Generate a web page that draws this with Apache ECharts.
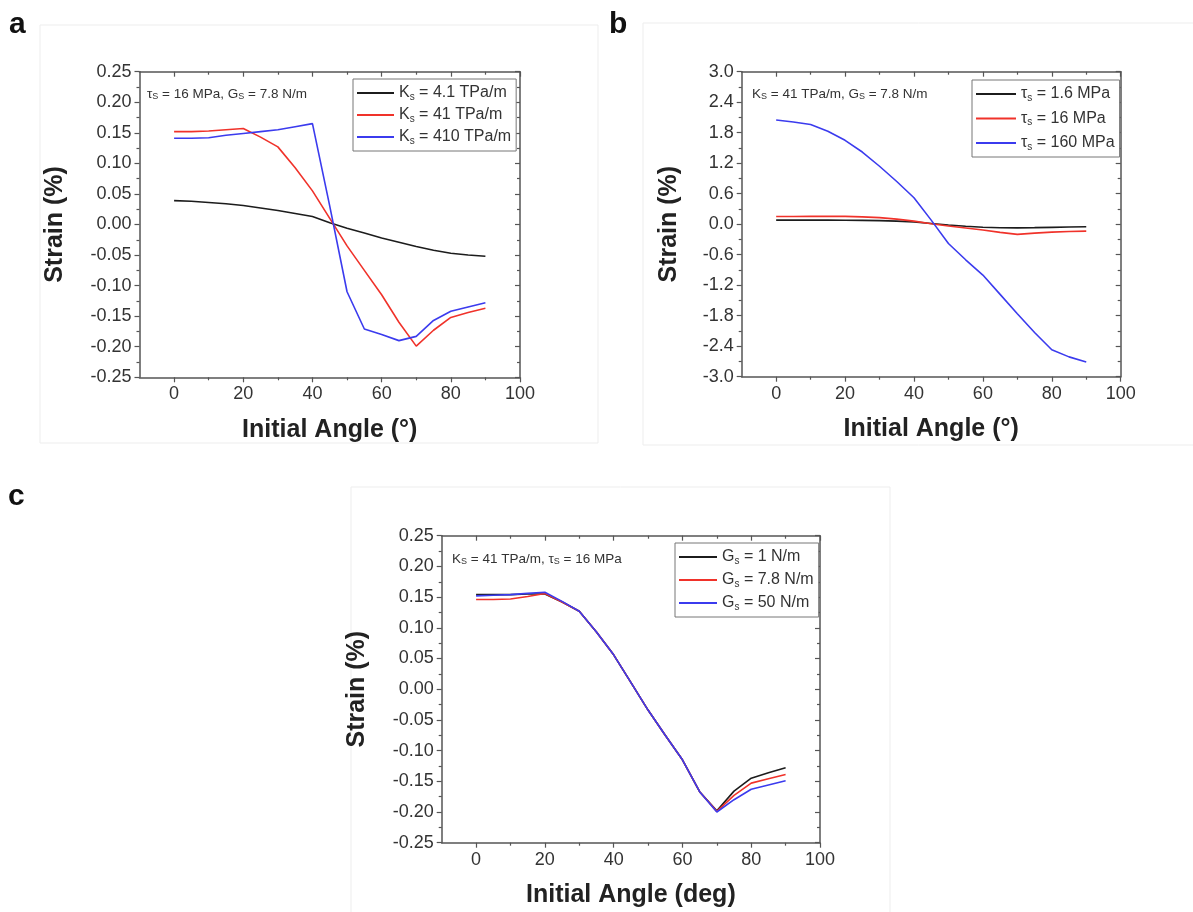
<!DOCTYPE html>
<html>
<head>
<meta charset="utf-8">
<script src="https://cdn.jsdelivr.net/npm/echarts@6/dist/echarts.min.js"></script>
<style>
html,body{margin:0;padding:0;background:#fff;}
#chart{width:1193px;height:912px;}
</style>
</head>
<body>
<div id="chart"></div>
<script>
// ---------- data ----------
const angles = [0,5,10,15,20,25,30,35,40,45,50,55,60,65,70,75,80,85,90];
const xMajorTicks = [0,20,40,60,80,100];
const xMinorTicks = [10,30,50,70,90];

// panel a : tau_S = 16 MPa, G_S = 7.8 N/m
const aK4   = [0.039,0.038,0.036,0.034,0.031,0.027,0.023,0.018,0.013,0.003,-0.006,-0.014,-0.022,-0.029,-0.036,-0.042,-0.047,-0.050,-0.052];
const aK41  = [0.152,0.152,0.153,0.155,0.157,0.143,0.127,0.093,0.055,0.010,-0.035,-0.075,-0.115,-0.160,-0.199,-0.173,-0.152,-0.144,-0.137];
const aK410 = [0.141,0.141,0.142,0.146,0.149,0.152,0.155,0.160,0.165,0.030,-0.110,-0.171,-0.180,-0.190,-0.183,-0.157,-0.142,-0.135,-0.128];

// panel b : K_S = 41 TPa/m, G_S = 7.8 N/m
const bT1_6 = [0.08,0.08,0.08,0.08,0.078,0.075,0.07,0.06,0.045,0.015,-0.015,-0.04,-0.06,-0.07,-0.073,-0.068,-0.062,-0.056,-0.05];
const bT16  = [0.152,0.152,0.153,0.153,0.153,0.145,0.13,0.1,0.06,0.01,-0.035,-0.075,-0.115,-0.16,-0.2,-0.175,-0.155,-0.145,-0.137];
const bT160 = [2.05,2.01,1.96,1.83,1.65,1.42,1.14,0.84,0.52,0.08,-0.38,-0.70,-1.00,-1.38,-1.76,-2.13,-2.47,-2.61,-2.71];

// panel c : K_S = 41 TPa/m, tau_S = 16 MPa
const cG1   = [0.154,0.154,0.154,0.155,0.155,0.142,0.127,0.093,0.056,0.011,-0.034,-0.075,-0.115,-0.167,-0.198,-0.166,-0.145,-0.136,-0.128];
const cG7_8 = [0.146,0.146,0.147,0.151,0.156,0.142,0.127,0.093,0.056,0.011,-0.034,-0.075,-0.115,-0.167,-0.199,-0.173,-0.153,-0.146,-0.139];
const cG50  = [0.152,0.153,0.154,0.156,0.158,0.143,0.127,0.093,0.056,0.011,-0.034,-0.075,-0.115,-0.167,-0.200,-0.180,-0.163,-0.156,-0.149];

// legend labels: [symbol, subscript, rest]
const legA = [['K','s',' = 4.1 TPa/m'],['K','s',' = 41 TPa/m'],['K','s',' = 410 TPa/m']];
const legB = [['τ','s',' = 1.6 MPa'],['τ','s',' = 16 MPa'],['τ','s',' = 160 MPa']];
const legC = [['G','s',' = 1 N/m'],['G','s',' = 7.8 N/m'],['G','s',' = 50 N/m']];

const colors = ['#1c1c1c','#f0322a','#3b3bee'];
const FONT = 'Liberation Sans, Arial, sans-serif';
const AX = '#555';

// ---------- helpers ----------
function pairs(ys){ return angles.map((x,i)=>[x, ys[i]]); }
function nameOf(p){ return p[0]+p[1]+p[2]; }

function xAxes(gi, title){
  const base = {type:'value', gridIndex:gi, min:-10, max:100, splitLine:{show:false},
    axisLine:{onZero:false, lineStyle:{color:AX, width:1.5}}};
  return [
    Object.assign({}, base, {position:'bottom', name:title, nameLocation:'middle', nameGap:40,
      nameTextStyle:{fontSize:25, fontWeight:'bold', fontFamily:FONT, color:'#222'},
      axisTick:{show:true, inside:false, length:5, customValues:xMajorTicks, lineStyle:{color:AX, width:1.2}},
      axisLabel:{customValues:xMajorTicks, margin:8, fontSize:18, fontFamily:FONT, color:'#333'}}),
    Object.assign({}, base, {position:'bottom', axisLine:{show:false, onZero:false}, axisLabel:{show:false},
      axisTick:{show:true, inside:false, length:3, customValues:xMinorTicks, lineStyle:{color:AX, width:1.2}}}),
    Object.assign({}, base, {position:'top', axisLabel:{show:false},
      axisTick:{show:true, inside:true, length:5, customValues:xMajorTicks, lineStyle:{color:AX, width:1.2}}}),
    Object.assign({}, base, {position:'top', axisLine:{show:false, onZero:false}, axisLabel:{show:false},
      axisTick:{show:true, inside:true, length:3, customValues:xMinorTicks, lineStyle:{color:AX, width:1.2}}})
  ];
}
function yAxes(gi, min, max, interval, dec, gap){
  const base = {type:'value', gridIndex:gi, min:min, max:max, interval:interval, splitLine:{show:false},
    axisLine:{show:true, onZero:false, lineStyle:{color:AX, width:1.5}},
    minorTick:{show:true, splitNumber:2, length:3, lineStyle:{color:AX, width:1.2}}};
  return [
    Object.assign({}, base, {position:'left', name:'Strain (%)', nameLocation:'middle', nameGap:gap, nameRotate:90,
      nameTextStyle:{fontSize:25, fontWeight:'bold', fontFamily:FONT, color:'#222'},
      axisTick:{show:true, inside:false, length:5, lineStyle:{color:AX, width:1.2}},
      axisLabel:{margin:8, fontSize:18, fontFamily:FONT, color:'#333', formatter:v=>Number(v).toFixed(dec)}}),
    Object.assign({}, base, {position:'right', axisLabel:{show:false},
      axisTick:{show:true, inside:true, length:5, lineStyle:{color:AX, width:1.2}}})
  ];
}
function mkSeries(gi, leg, datas){
  return datas.map((d,i)=>({
    type:'line', name:nameOf(leg[i]), xAxisIndex:gi*4, yAxisIndex:gi*2,
    data:pairs(d), symbol:'none', showSymbol:false, smooth:false, color:colors[i],
    lineStyle:{color:colors[i], width:1.6}, z:2+i
  }));
}
const legRich = {
  t:{fontSize:16, fontFamily:FONT, color:'#333', lineHeight:18},
  s:{fontSize:10, fontFamily:FONT, color:'#333', lineHeight:10, verticalAlign:'bottom'}
};
function mkLegend(leg, left, top, gap, w){
  const map = {};
  leg.forEach(p=>{ map[nameOf(p)] = '{t|'+p[0]+'}{s|'+p[1]+'}{t|'+p[2]+'}'; });
  return {show:true, orient:'vertical', left:left, top:top, selectedMode:false,
    data:leg.map(nameOf), icon:'rect', itemWidth:w, itemHeight:2, itemGap:gap,
    padding:[6,5,5,4], borderColor:'#777', borderWidth:1, backgroundColor:'#fff',
    formatter:n=>map[n], textStyle:{fontSize:16, fontFamily:FONT, color:'#333', rich:legRich}};
}
const annRich = {
  m:{fontSize:13.5, fontFamily:FONT, fontWeight:'normal', color:'#333', lineHeight:14},
  s:{fontSize:9, fontFamily:FONT, fontWeight:'normal', color:'#333', lineHeight:8, verticalAlign:'bottom'}
};
function ann(txt, left, top){
  return {text:txt, left:left, top:top, padding:0, textStyle:{rich:annRich, fontSize:13.5, fontWeight:'normal'}};
}
function panelLabel(t, left, top){
  return {text:t, left:left, top:top, padding:0,
    textStyle:{fontSize:30, fontWeight:'bold', fontFamily:FONT, color:'#111', lineHeight:30}};
}

const grids = [
  {left:139.5, top:71.7, width:380.5, height:305.6},
  {left:741.7, top:71.7, width:379, height:305},
  {left:441.7, top:535.7, width:378.3, height:307}
];

const option = {
  animation:false,
  backgroundColor:'#fff',
  grid:grids.map(g=>Object.assign({containLabel:false}, g)),
  xAxis:[].concat(xAxes(0,'Initial Angle (°)'), xAxes(1,'Initial Angle (°)'), xAxes(2,'Initial Angle (deg)')),
  yAxis:[].concat(yAxes(0,-0.25,0.25,0.05,2,72), yAxes(1,-3,3,0.6,1,60), yAxes(2,-0.25,0.25,0.05,2,72)),
  legend:[
    mkLegend(legA, 353, 79, 5, 37),
    mkLegend(legB, 972, 80, 7.5, 40),
    mkLegend(legC, 675, 543, 6, 38)
  ],
  title:[
    panelLabel('a', 9, 10),
    panelLabel('b', 609, 10),
    panelLabel('c', 8, 482),
    ann('{m|τ}{s|S}{m| = 16 MPa, G}{s|S}{m| = 7.8 N/m}', 147, 87),
    ann('{m|K}{s|S}{m| = 41 TPa/m, G}{s|S}{m| = 7.8 N/m}', 752, 87),
    ann('{m|K}{s|S}{m| = 41 TPa/m, τ}{s|S}{m| = 16 MPa}', 452, 552)
  ],
  graphic:[
    {type:'rect', shape:{x:40, y:25, width:558, height:418}, style:{fill:'none', stroke:'#ededed', lineWidth:1}, silent:true, z:-1},
    {type:'rect', shape:{x:643, y:23, width:560, height:422}, style:{fill:'none', stroke:'#ededed', lineWidth:1}, silent:true, z:-1},
    {type:'rect', shape:{x:351, y:487, width:539, height:440}, style:{fill:'none', stroke:'#ededed', lineWidth:1}, silent:true, z:-1}
  ],
  series:[].concat(
    mkSeries(0, legA, [aK4, aK41, aK410]),
    mkSeries(1, legB, [bT1_6, bT16, bT160]),
    mkSeries(2, legC, [cG1, cG7_8, cG50])
  )
};

const chart = echarts.init(document.getElementById('chart'), null, {renderer:'canvas'});
chart.setOption(option);
</script>
</body>
</html>
